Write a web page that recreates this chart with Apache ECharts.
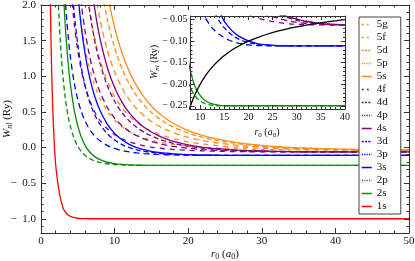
<!DOCTYPE html>
<html><head><meta charset="utf-8">
<script src="https://cdn.jsdelivr.net/npm/echarts@6.0.0/dist/echarts.min.js"></script>
<style>html,body{margin:0;padding:0;background:#fff}#c{width:415px;height:261px}</style>
</head><body><div id="c"></div>
<script>
// r0 grid (a0) shared by all curves
const r0 = [1.2,1.4,1.6,1.8,2,2.25,2.5,2.75,3,3.25,3.5,3.75,4,4.5,5,5.5,6,6.5,7,7.5,8,9,10,11,12,13,14,15,16,17,18,20,22,24,26,28,30,32,34,36,38,40,42,44,46,48,50];
const N = null;
const W1s = [2.52,1.28,0.534,0.063,-0.25,-0.47,-0.635,-0.76,-0.848,-0.896,-0.93,-0.952,-0.967,-0.984,-0.993,-0.997,-0.999,-1,-1,-1,-1,-1,-1,-1,-1,-1,-1,-1,-1,-1,-1,-1,-1,-1,-1,-1,-1,-1,-1,-1,-1,-1,-1,-1,-1,-1,-1];
const W2p = [N,N,N,N,N,2.33,1.728,1.297,0.978,0.737,0.552,0.407,0.292,0.126,0.016,-0.058,-0.111,-0.148,-0.175,-0.195,-0.209,-0.228,-0.239,-0.245,-0.248,-0.249,-0.25,-0.25,-0.25,-0.25,-0.25,-0.25,-0.25,-0.25,-0.25,-0.25,-0.25,-0.25,-0.25,-0.25,-0.25,-0.25,-0.25,-0.25,-0.25,-0.25,-0.25];
const W2s = [N,N,N,N,N,N,N,N,2.279,1.79,1.412,1.115,0.879,0.535,0.302,0.141,0.027,-0.049,-0.103,-0.142,-0.17,-0.207,-0.226,-0.238,-0.244,-0.247,-0.249,-0.25,-0.25,-0.25,-0.25,-0.25,-0.25,-0.25,-0.25,-0.25,-0.25,-0.25,-0.25,-0.25,-0.25,-0.25,-0.25,-0.25,-0.25,-0.25,-0.25];
const W3d = [N,N,N,N,N,N,N,N,N,2.153,1.788,1.498,1.264,0.914,0.671,0.497,0.369,0.272,0.198,0.14,0.094,0.029,-0.013,-0.043,-0.0625,-0.0751,-0.0847,-0.0921,-0.0978,-0.1017,-0.1049,-0.1084,-0.11,-0.1107,-0.111,-0.1111,-0.1111,-0.1111,-0.1111,-0.1111,-0.1111,-0.1111,-0.1111,-0.1111,-0.1111,-0.1111,-0.1111];
const W3p = [N,N,N,N,N,N,N,N,N,N,N,N,2.561,1.904,1.444,1.111,0.864,0.677,0.532,0.418,0.327,0.194,0.104,0.041,-0.002,-0.033,-0.054,-0.069,-0.0803,-0.0886,-0.0953,-0.1033,-0.1076,-0.1097,-0.1106,-0.111,-0.1111,-0.1111,-0.1111,-0.1111,-0.1111,-0.1111,-0.1111,-0.1111,-0.1111,-0.1111,-0.1111];
const W3s = [N,N,N,N,N,N,N,N,N,N,N,N,N,N,2.16,1.671,1.309,1.034,0.822,0.655,0.522,0.329,0.198,0.108,0.044,-0.002,-0.031,-0.054,-0.0686,-0.08,-0.0883,-0.0995,-0.106,-0.1088,-0.1102,-0.1108,-0.1111,-0.1111,-0.1111,-0.1111,-0.1111,-0.1111,-0.1111,-0.1111,-0.1111,-0.1111,-0.1111];
const W4f = [N,N,N,N,N,N,N,N,N,N,N,N,2.309,1.749,1.355,1.069,0.855,0.692,0.564,0.463,0.382,0.263,0.18,0.122,0.079,0.048,0.024,0.0057,-0.008,-0.019,-0.0278,-0.04,-0.0468,-0.0524,-0.0565,-0.0592,-0.0607,-0.0616,-0.0621,-0.0623,-0.0624,-0.0625,-0.0625,-0.0625,-0.0625,-0.0625,-0.0625];
const W4d = [N,N,N,N,N,N,N,N,N,N,N,N,N,N,2.505,2.002,1.624,1.334,1.108,0.927,0.782,0.564,0.414,0.306,0.226,0.166,0.12,0.084,0.056,0.033,0.015,-0.0095,-0.0285,-0.0395,-0.0465,-0.0521,-0.0563,-0.0591,-0.0606,-0.0615,-0.0621,-0.0623,-0.0624,-0.0625,-0.0625,-0.0625,-0.0625];
const W4p = [N,N,N,N,N,N,N,N,N,N,N,N,N,N,N,N,2.416,1.994,1.664,1.4,1.188,0.87,0.649,0.49,0.372,0.284,0.215,0.162,0.1195,0.0855,0.058,0.017,-0.008,-0.026,-0.038,-0.045,-0.0515,-0.0558,-0.0588,-0.0605,-0.0615,-0.0621,-0.0623,-0.0624,-0.0625,-0.0625,-0.0625];
const W4s = [N,N,N,N,N,N,N,N,N,N,N,N,N,N,N,N,N,N,2.159,1.816,1.539,1.127,0.841,0.636,0.485,0.372,0.285,0.217,0.164,0.121,0.087,0.037,0.003,-0.017,-0.032,-0.043,-0.0486,-0.0537,-0.0574,-0.0597,-0.061,-0.0618,-0.0622,-0.0624,-0.0625,-0.0625,-0.0625];
const W5g = [N,N,N,N,N,N,N,N,N,N,N,N,N,2.685,2.117,1.703,1.391,1.151,0.963,0.813,0.692,0.51,0.384,0.292,0.225,0.174,0.134,0.103,0.079,0.059,0.043,0.019,0.002,-0.0075,-0.0145,-0.021,-0.0278,-0.0303,-0.0326,-0.0346,-0.0361,-0.0374,-0.0382,-0.0389,-0.0393,-0.0396,-0.0398];
const W5f = [N,N,N,N,N,N,N,N,N,N,N,N,N,N,N,N,2.407,2.007,1.693,1.441,1.237,0.93,0.715,0.559,0.443,0.354,0.285,0.231,0.187,0.152,0.123,0.079,0.048,0.026,0.009,-0.002,-0.0105,-0.017,-0.023,-0.0278,-0.0303,-0.0326,-0.0346,-0.0361,-0.0374,-0.0382,-0.0389];
const W5d = [N,N,N,N,N,N,N,N,N,N,N,N,N,N,N,N,N,N,2.454,2.097,1.806,1.369,1.062,0.838,0.671,0.543,0.444,0.365,0.301,0.25,0.207,0.143,0.097,0.063,0.0385,0.0197,0.005,-0.0052,-0.0125,-0.019,-0.024,-0.0285,-0.0307,-0.0329,-0.0348,-0.0363,-0.0375];
const W5p = [N,N,N,N,N,N,N,N,N,N,N,N,N,N,N,N,N,N,N,N,2.375,1.804,1.403,1.111,0.892,0.725,0.595,0.492,0.409,0.341,0.286,0.201,0.141,0.097,0.0645,0.0396,0.0206,0.0057,-0.0048,-0.0121,-0.0187,-0.0237,-0.0281,-0.0305,-0.0328,-0.0347,-0.0362];
const W5s = [N,N,N,N,N,N,N,N,N,N,N,N,N,N,N,N,N,N,N,N,2.87,2.174,1.685,1.33,1.065,0.864,0.707,0.583,0.484,0.403,0.337,0.237,0.167,0.116,0.078,0.05,0.029,0.012,-0.0003,-0.0085,-0.015,-0.0211,-0.0262,-0.0294,-0.0317,-0.0338,-0.0355];
// black reference curve in the inset
const Wblack = [N,N,N,N,N,N,N,N,N,N,N,N,N,N,N,N,N,N,N,-0.2667,-0.25,-0.2222,-0.2,-0.1818,-0.1667,-0.1538,-0.1429,-0.1333,-0.125,-0.1176,-0.1111,-0.1,-0.0909,-0.0833,-0.0769,-0.0714,-0.0667,-0.0625,-0.0588,-0.0556,-0.0526,-0.05,-0.0476,N,N,N,N];

// ticks
const xMajorMain = [0,10,20,30,40,50];
const xMinorMain = [2,4,6,8,12,14,16,18,22,24,26,28,32,34,36,38,42,44,46,48];
const yMajorMain = [-1,-0.5,0,0.5,1,1.5,2];
const yMinorMain = [-1.2,-1.1,-0.9,-0.8,-0.7,-0.6,-0.4,-0.3,-0.2,-0.1,0.1,0.2,0.3,0.4,0.6,0.7,0.8,0.9,1.1,1.2,1.3,1.4,1.6,1.7,1.8,1.9];
const xMajorIns = [10,15,20,25,30,35,40];
const xMinorIns = [9,11,12,13,14,16,17,18,19,21,22,23,24,26,27,28,29,31,32,33,34,36,37,38,39];
const yMajorIns = [-0.25,-0.2,-0.15,-0.1,-0.05];
const yMinorIns = [-0.24,-0.23,-0.22,-0.21,-0.19,-0.18,-0.17,-0.16,-0.14,-0.13,-0.12,-0.11,-0.09,-0.08,-0.07,-0.06];

const ORANGE='#ff8c1a', PURPLE='#800080', BLUE='#0000ff', GREEN='#0b8a0b', RED='#ff0000';
const FRAME='#333';
const SERIF="'Liberation Serif','Times New Roman',serif";
const dashMain = {s:'solid', p:[5,3], d:[6,4], f:[5,5], g:[4,5]};
const dashLeg = {s:'solid', p:[1.2,1.2], d:[2,1.3], f:[2,3], g:[2,3]};
const states = [
 ['5g',W5g,ORANGE,'g'],['5f',W5f,ORANGE,'f'],['5d',W5d,ORANGE,'d'],['5p',W5p,ORANGE,'p'],['5s',W5s,ORANGE,'s'],
 ['4f',W4f,PURPLE,'f'],['4d',W4d,PURPLE,'d'],['4p',W4p,PURPLE,'p'],['4s',W4s,PURPLE,'s'],
 ['3d',W3d,BLUE,'d'],['3p',W3p,BLUE,'p'],['3s',W3s,BLUE,'s'],
 ['2p',W2p,GREEN,'p'],['2s',W2s,GREEN,'s'],['1s',W1s,RED,'s']];

const pts = arr => r0.map((x,i)=>[x,arr[i]]).filter(p=>p[1]!==null);
const minusFmt = (d, sp) => v => (v < -1e-9 ? '\u2212' + sp : '') + Math.abs(v).toFixed(d);

function ax(grid, pos, min, max, ticks, len, showLabel, fmt, margin, z, showLine, fs) {
  return {type:'value', gridIndex:grid, position:pos, min, max, z,
    axisLine:{show:showLine, onZero:false, lineStyle:{color:FRAME, width:1}},
    axisTick:{show:true, inside:true, length:len, customValues:ticks, lineStyle:{color:FRAME, width:1}},
    axisLabel:{show:showLabel, customValues:ticks, margin, formatter:fmt, fontFamily:SERIF, fontSize:fs||11, color:'#111'},
    splitLine:{show:false}, minorTick:{show:false}};
}
const xAxes = [
  ax(0,'bottom',0,50,xMajorMain,5,true,v=>String(v),3,3,true),
  ax(0,'bottom',0,50,xMinorMain,2.5,false,null,3,3,false),
  ax(0,'top',0,50,xMajorMain,5,false,null,3,3,true),
  ax(0,'top',0,50,xMinorMain,2.5,false,null,3,3,false),
  ax(1,'bottom',8,40,xMajorIns,4,true,v=>String(v),3,7,true,10),
  ax(1,'bottom',8,40,xMinorIns,2,false,null,3,7,false),
  ax(1,'top',8,40,xMajorIns,4,false,null,3,7,true),
  ax(1,'top',8,40,xMinorIns,2,false,null,3,7,false)
];
const yAxes = [
  ax(0,'left',-1.2,2,yMajorMain,5,true,minusFmt(1,'\u2002'),5,3,true),
  ax(0,'left',-1.2,2,yMinorMain,2.5,false,null,5,3,false),
  ax(0,'right',-1.2,2,yMajorMain,5,false,null,5,3,true),
  ax(0,'right',-1.2,2,yMinorMain,2.5,false,null,5,3,false),
  ax(1,'left',-0.2575,-0.0415,yMajorIns,4,true,minusFmt(2,'\u2009'),3,7,true,10),
  ax(1,'left',-0.2575,-0.0415,yMinorIns,2,false,null,3,7,false),
  ax(1,'right',-0.2575,-0.0415,yMajorIns,4,false,null,3,7,true),
  ax(1,'right',-0.2575,-0.0415,yMinorIns,2,false,null,3,7,false)
];

const series = [];
states.forEach(([name,arr,color,k])=>{
  const base = {type:'line', name, data:pts(arr), symbol:'none', smooth:0.3, animation:false,
    lineStyle:{color, width:1.3, type:dashMain[k]}, itemStyle:{color}};
  series.push(Object.assign({}, base, {xAxisIndex:0, yAxisIndex:0, z:2}));
  series.push(Object.assign({}, base, {xAxisIndex:4, yAxisIndex:4, z:6}));
});
series.push({type:'line', name:'ref', data:pts(Wblack), symbol:'none', smooth:0.3, animation:false,
  xAxisIndex:4, yAxisIndex:4, z:6, lineStyle:{color:'#000', width:1.3}});

const mkRich = fs => ({
  i:{fontStyle:'italic', fontFamily:SERIF, fontSize:fs, color:'#111'},
  n:{fontFamily:SERIF, fontSize:fs, color:'#111'},
  s:{fontFamily:SERIF, fontSize:fs-3, color:'#111', padding:[6,0,0,0]},
  si:{fontFamily:SERIF, fontSize:fs-3, fontStyle:'italic', color:'#111', padding:[6,0,0,0]}
});
const txt = (text,x,y,rot,fs)=>({type:'text', x, y, rotation:rot||0, z:9,
  style:{text, rich:mkRich(fs), align:'center', verticalAlign:'middle', textAlign:'center', textVerticalAlign:'middle', fontFamily:SERIF, fontSize:fs, fill:'#111'}});
const rTitle = '{i|r}{s|0}{n| (}{i|a}{s|0}{n|)}';
const wTitle = '{i|W}{si|nl}{n| (Ry)}';

const chart = echarts.init(document.getElementById('c'), null, {renderer:'canvas'});
chart.setOption({
  animation:false,
  backgroundColor:'#fff',
  grid:[
    {left:41, right:6, top:5, bottom:28, outerBoundsMode:'none'},
    {left:190.5, right:70, top:16, bottom:152, outerBoundsMode:'none'}
  ],
  xAxis:xAxes, yAxis:yAxes,
  legend:{orient:'vertical', left:359, top:17, itemWidth:10, itemHeight:8, itemGap:0,
    padding:[1,13,1,2], backgroundColor:'#fff', borderColor:'#444', borderWidth:1, z:8,
    itemStyle:{color:'rgba(0,0,0,0)', borderColor:'rgba(0,0,0,0)', borderWidth:0, opacity:0},
    textStyle:{fontFamily:SERIF, fontSize:11, lineHeight:13, color:'#111'},
    data: states.map(([name,arr,color,k])=>({name, lineStyle:{type:dashLeg[k], width:1.5}}))},
  graphic:[
    {type:'rect', shape:{x:190.5, y:16, width:154.5, height:93}, style:{fill:'#fff'}, z:5},
    txt(rTitle, 225, 254, 0, 11),
    txt(wTitle, 7, 119, Math.PI/2, 11),
    txt(rTitle, 267, 132, 0, 10),
    txt(wTitle, 154, 62, Math.PI/2, 10)
  ],
  series
});
</script>
</body></html>
